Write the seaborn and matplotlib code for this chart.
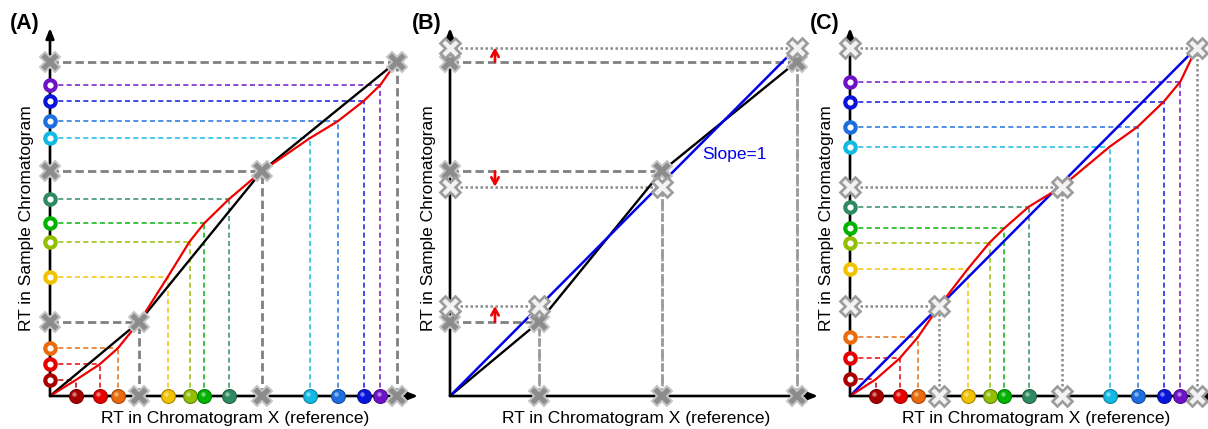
import numpy as np
import pandas as pd
import matplotlib
matplotlib.use("Agg")
import matplotlib.pyplot as plt
import seaborn as sns

# ---- retention-time data (minutes) ----
ref_rt = [2.58, 4.97, 6.78, 11.75, 13.95, 15.42, 17.88, 25.97, 28.77, 31.37, 33.03]
sample_rt = [1.60, 3.17, 4.77, 11.87, 15.43, 17.27, 19.67, 25.77, 27.47, 29.50, 31.10]
corrected_rt = [1.67, 3.77, 5.87, 12.67, 15.33, 16.77, 18.93, 24.93, 26.93, 29.43, 31.43]
compound_colors = ["#a80000", "#e60000", "#ea6a0c", "#f2c200", "#92c000", "#00b400",
                   "#2f8a62", "#12b9e2", "#1d6fe0", "#0a14dc", "#6e12c8"]

anchor_ref = [8.93, 21.17, 34.67]
anchor_sample = [7.43, 22.47, 33.43]
anchor_corrected = [9.00, 20.93, 34.85]

x_label = "RT in Chromatogram X (reference)"
y_label = "RT in Sample Chromatogram"
panel_tags = ["(A)", "(B)", "(C)"]
slope_text = "Slope=1"

sns.set_theme(style="white")
plt.rcParams["font.family"] = ["Liberation Sans", "DejaVu Sans"]
plt.rcParams["text.color"] = "black"

W, H = 1208, 429
fig = plt.figure(figsize=(W / 100, H / 100), dpi=100)


def make_axes(ox):
    ax = fig.add_axes([(ox - 15) / W, (H - 410) / H, 395 / W, 400 / H])
    ax.set_xlim(-1.5, 38.0)
    ax.set_ylim(-1.4, 38.6)
    ax.axis("off")
    ax.patch.set_alpha(0)
    return ax


def draw_frame(ax):
    for end in [(36.8, 0), (0, 36.8)]:
        ax.annotate("", xy=end, xytext=(0, 0),
                    arrowprops=dict(arrowstyle="-|>,head_length=0.5,head_width=0.2",
                                    color="black", lw=1.9, shrinkA=0, shrinkB=0),
                    annotation_clip=False, zorder=6)


def cross(ax, x, y, light=False):
    if light:
        ax.plot(x, y, "X", ms=14.5, mfc="#f2f2f2", mec="#9c9c9c", mew=1.9,
                clip_on=False, zorder=9)
    else:
        ax.plot(x, y, "X", ms=15, mfc="#8c8c8c", mec="#c4c4c4", mew=1.4,
                clip_on=False, zorder=9)


def compound_guides(ax, ys):
    for x, y, c in zip(ref_rt, ys, compound_colors):
        ax.plot([0, x], [y, y], color=c, lw=1.2, ls=(0, (3, 2)), alpha=0.9, zorder=2)
        ax.plot([x, x], [0, y], color=c, lw=1.2, ls=(0, (3, 2)), alpha=0.9, zorder=2)


def compound_markers(ax, ys):
    for x, y, c in zip(ref_rt, ys, compound_colors):
        dark = matplotlib.colors.to_hex(np.array(matplotlib.colors.to_rgb(c)) * 0.7)
        # balls on the reference axis
        ax.plot(x, 0, "o", ms=10, mfc=c, mec=dark, mew=0.8, clip_on=False, zorder=8)
        ax.plot(x - 0.15, 0.2, "o", ms=3.2, mfc="white", mec="none", alpha=0.45,
                clip_on=False, zorder=8)
        # rings on the sample axis
        ax.plot(0, y, "o", ms=7.5, mfc="white", mec=c, mew=3.0, clip_on=False, zorder=8)


def warp_curve(ax, ys, anchors_y):
    pts = sorted(list(zip(ref_rt, ys)) + list(zip(anchor_ref, anchors_y)))
    df = pd.DataFrame([(0.0, 0.0)] + pts, columns=["ref", "sample"])
    sns.lineplot(data=df, x="ref", y="sample", sort=False, estimator=None,
                 color="#ee0000", lw=1.6, ax=ax, zorder=5)


# ---------------- (A) ----------------
axA = make_axes(50)
draw_frame(axA)
compound_guides(axA, sample_rt)
for ax_, ay in zip(anchor_ref, anchor_sample):
    axA.plot([0, ax_], [ay, ay], color="#808080", lw=2.0, ls=(0, (3, 1.5)), zorder=3)
    axA.plot([ax_, ax_], [0, ay], color="#808080", lw=2.0, ls=(0, (3, 1.5)), zorder=3)
dfA = pd.DataFrame({"ref": [0.0] + anchor_ref, "sample": [0.0] + anchor_sample})
sns.lineplot(data=dfA, x="ref", y="sample", sort=False, estimator=None,
             color="black", lw=1.7, ax=axA, zorder=4)
warp_curve(axA, sample_rt, anchor_sample)
compound_markers(axA, sample_rt)
for ax_, ay in zip(anchor_ref, anchor_sample):
    cross(axA, ax_, 0)
    cross(axA, 0, ay)
    cross(axA, ax_, ay)
axA.set_xlabel("")
axA.set_ylabel("")

# ---------------- (B) ----------------
axB = make_axes(450)
draw_frame(axB)
for ax_, ay, ac in zip(anchor_ref, anchor_sample, anchor_corrected):
    axB.plot([0, ax_], [ay, ay], color="#808080", lw=2.0, ls=(0, (3, 1.5)), zorder=3)
    axB.plot([0, ax_], [ac, ac], color="#8c8c8c", lw=1.8, ls=(0, (1, 1)), zorder=3)
    top = min(ay, ac)
    axB.plot([ax_, ax_], [0, top], color="#9a9a9a", lw=2.0, ls=(0, (3, 1.5)), zorder=3)
    axB.plot([ax_, ax_], [0, top], color="#9a9a9a", lw=1.8, ls=(0, (1, 1)), zorder=3)
    axB.annotate("", xy=(4.5, ac), xytext=(4.5, ay),
                 arrowprops=dict(arrowstyle="->,head_length=0.4,head_width=0.22",
                                 color="#ee0000", lw=1.9, shrinkA=0, shrinkB=0),
                 zorder=7)
dfB = pd.DataFrame({"ref": [0.0] + anchor_ref, "sample": [0.0] + anchor_sample})
sns.lineplot(data=dfB, x="ref", y="sample", sort=False, estimator=None,
             color="black", lw=1.7, ax=axB, zorder=4)
dfB1 = pd.DataFrame({"ref": [0.0, anchor_ref[-1]], "sample": [0.0, anchor_corrected[-1]]})
sns.lineplot(data=dfB1, x="ref", y="sample", sort=False, estimator=None,
             color="#0000ee", lw=1.8, ax=axB, zorder=5)
axB.text(25.2, 24.1, slope_text, color="#0000ee", fontsize=12.5, ha="left", va="center")
for ax_, ay, ac in zip(anchor_ref, anchor_sample, anchor_corrected):
    cross(axB, ax_, 0)
    cross(axB, 0, ay)
    cross(axB, 0, ac, light=True)
    cross(axB, ax_, ay)
    cross(axB, ax_, ac, light=True)
axB.set_xlabel("")
axB.set_ylabel("")

# ---------------- (C) ----------------
axC = make_axes(850)
draw_frame(axC)
compound_guides(axC, corrected_rt)
for ax_, ac in zip(anchor_ref, anchor_corrected):
    axC.plot([0, ax_], [ac, ac], color="#8c8c8c", lw=1.8, ls=(0, (1, 1)), zorder=3)
    axC.plot([ax_, ax_], [0, ac], color="#8c8c8c", lw=1.8, ls=(0, (1, 1)), zorder=3)
dfC = pd.DataFrame({"ref": [0.0, anchor_ref[-1]], "sample": [0.0, anchor_corrected[-1]]})
sns.lineplot(data=dfC, x="ref", y="sample", sort=False, estimator=None,
             color="#0000ee", lw=1.8, ax=axC, zorder=4)
warp_curve(axC, corrected_rt, anchor_corrected)
compound_markers(axC, corrected_rt)
for ax_, ac in zip(anchor_ref, anchor_corrected):
    cross(axC, ax_, 0, light=True)
    cross(axC, 0, ac, light=True)
    cross(axC, ax_, ac, light=True)
axC.set_xlabel("")
axC.set_ylabel("")

# ---------------- titles and axis captions ----------------
for tag, tx, ylx, xlx in zip(panel_tags, [10, 412, 810], [27, 428, 827], [235, 636, 1036]):
    fig.text(tx / W, 1 - 24 / H, tag, fontsize=15.5, fontweight="bold",
             ha="left", va="center", color="black")
    fig.text(ylx / W, 1 - 218 / H, y_label, fontsize=12.5, rotation=90,
             ha="center", va="center", color="black")
    fig.text(xlx / W, 1 - 419 / H, x_label, fontsize=12.5, ha="center", va="center",
             color="black")

fig.savefig("out.png", dpi=100)
